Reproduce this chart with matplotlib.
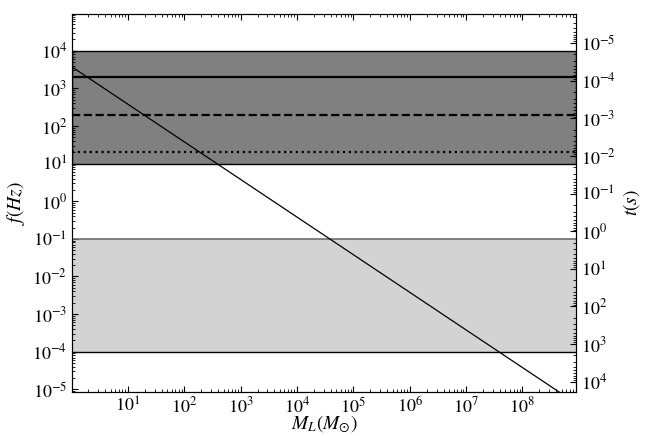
#!/usr/bin/env python
#
# plot.py
#

import numpy as np
import matplotlib
matplotlib.use('Agg')
import matplotlib.pyplot as plt
from matplotlib.ticker import LogLocator, NullFormatter


# lens mass vs characteristic frequency (straight line in log-log)
mass = [1.0, 1.0e9]
freq = [3.8e3, 3.8e-6]

# detector bands (f in Hz)
ground_band = (1.0e1, 1.0e4)
space_band = (1.0e-4, 1.0e-1)

# horizontal reference frequencies and their styles
ref_freqs = [2.0e3, 2.0e2, 2.0e1]
ref_styles = ['-', '--', ':']

xlim = (1.02, 9.0e8)
ylim = (8.5e-6, 9.5e4)


def setup_fonts():
    plt.rcParams['font.family'] = 'STIXGeneral'
    plt.rcParams['mathtext.fontset'] = 'stix'
    plt.rcParams['font.size'] = 13


def style_ticks(ax, axis):
    a = ax.xaxis if axis == 'x' else ax.yaxis
    a.set_major_locator(LogLocator(base=10, numticks=30))
    a.set_minor_locator(LogLocator(base=10, subs=np.arange(2, 10), numticks=30))
    a.set_minor_formatter(NullFormatter())
    ax.tick_params(axis=axis, which='major', direction='in', length=4,
                   width=0.8, labelsize=13)
    ax.tick_params(axis=axis, which='minor', direction='in', length=2,
                   width=0.6)


def main():
    setup_fonts()

    fig = plt.figure(figsize=(6.54, 4.36), dpi=100)
    ax = fig.add_axes([0.110, 0.101, 0.771, 0.867])

    ax.set_xscale('log')
    ax.set_yscale('log')

    # bands
    ax.axhspan(ground_band[0], ground_band[1], facecolor='#808080',
               edgecolor='black', linewidth=1.0, zorder=1)
    ax.axhspan(space_band[0], space_band[1], facecolor='#d3d3d3',
               edgecolor='none', zorder=1)
    ax.axhline(space_band[1], color='#6e6e6e', linewidth=1.2, zorder=2)
    ax.axhline(space_band[0], color='black', linewidth=1.0, zorder=2)

    for f, ls in zip(ref_freqs, ref_styles):
        ax.axhline(f, color='black', linestyle=ls, linewidth=1.6, zorder=3)

    ax.plot(mass, freq, color='black', linewidth=0.9, zorder=4)

    ax.set_xlim(*xlim)
    ax.set_ylim(*ylim)

    ax.set_xlabel(r'$M_L(M_{\odot})$', fontsize=14, labelpad=-2)
    ax.set_ylabel(r'$f(Hz)$', fontsize=14, labelpad=4)

    ax.xaxis.set_ticks_position('both')
    style_ticks(ax, 'x')
    style_ticks(ax, 'y')

    # right axis: t = 1/(2 pi f)
    ax2 = ax.twinx()
    ax2.set_yscale('log')
    ax2.set_ylim(1.0 / (2 * np.pi * ylim[0]), 1.0 / (2 * np.pi * ylim[1]))
    ax2.set_ylabel(r'$t(s)$', fontsize=14, labelpad=4)
    style_ticks(ax2, 'y')

    fig.savefig('out.png', dpi=100)


if __name__ == '__main__':
    main()
